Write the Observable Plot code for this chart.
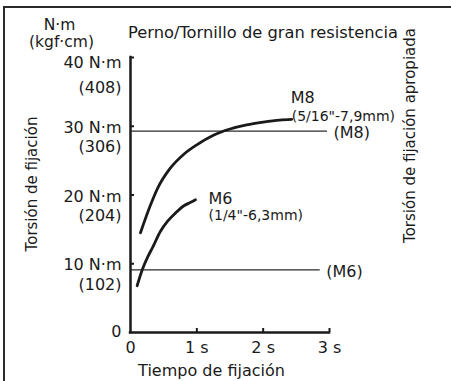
<!DOCTYPE html>
<html><head><meta charset="utf-8">
<script src="https://cdn.jsdelivr.net/npm/d3@7"></script>
<script src="https://cdn.jsdelivr.net/npm/@observablehq/plot@0.6"></script>
<style>
html,body{margin:0;padding:0;background:#fff;overflow:hidden}
#wrap{position:relative;width:451px;height:381px;overflow:hidden;background:#fff}
#border{position:absolute;left:3px;top:6px;width:470px;height:400px;border-left:2px solid #2a2a2a;border-top:2px solid #2a2a2a}
#chart{position:absolute;left:0;top:0}
</style></head><body>
<div id="wrap"><div id="border"></div><div id="chart"></div></div>
<script>
// ---- data ----
const chartTitle = "Perno/Tornillo de gran resistencia";
const unitNm = "N·m";
const unitKgf = "(kgf·cm)";
const yAxisTitle = "Torsión de fijación";
const rightTitle = "Torsión de fijación apropiada";
const xAxisTitle = "Tiempo de fijación";

const xTicks = [0, 1, 2, 3];
const xTickLabels = ["0", "1 s", "2 s", "3 s"];
const yTicks = [0, 10, 20, 30, 40];
const yTickNm = ["0", "10 N·m", "20 N·m", "30 N·m", "40 N·m"];
const yTickKgf = ["", "(102)", "(204)", "(306)", "(408)"];

const m8Time   = [0.15, 0.3, 0.41, 0.6, 0.8, 1.0, 1.25, 1.5, 1.75, 2.0, 2.25, 2.43];
const m8Torque = [14.5, 18.5, 21.0, 23.9, 25.9, 27.3, 28.7, 29.6, 30.2, 30.6, 30.9, 31.0];
const m6Time   = [0.1, 0.18, 0.26, 0.33, 0.45, 0.56, 0.68, 0.8, 0.9, 0.98];
const m6Torque = [6.8, 9.2, 11.0, 12.3, 14.7, 16.2, 17.4, 18.4, 18.9, 19.3];

const refSizes = ["(M8)", "(M6)"];
const refTorque = [29.3, 9.1];
const refEndTime = [2.97, 2.86];

const m8Name = "M8", m8Sub = "(5/16\"-7,9mm)";
const m6Name = "M6", m6Sub = "(1/4\"-6,3mm)";

// ---- build tables ----
const m8 = m8Time.map((t, i) => ({t, v: m8Torque[i]}));
const m6 = m6Time.map((t, i) => ({t, v: m6Torque[i]}));
const refs = refSizes.map((s, i) => ({s, v: refTorque[i], end: refEndTime[i]}));
const yLab = yTicks.map((v, i) => ({v, nm: yTickNm[i], kgf: yTickKgf[i]}));
const yMid = yLab.filter(d => d.v > 0 && d.v < 40);
const yTop = yLab.filter(d => d.v === 40);
const yZero = yLab.filter(d => d.v === 0);
const xLab = xTicks.map((t, i) => ({t, s: xTickLabels[i]}));
const m8End = m8[m8.length - 1];
const m6End = m6[m6.length - 1];

const ink = "#1a1a1a";
const fs = 16;

const chart = Plot.plot({
  width: 451, height: 381,
  marginLeft: 130, marginRight: 122, marginTop: 57, marginBottom: 49,
  x: {domain: [0, 3], axis: null},
  y: {domain: [0, 40], axis: null},
  style: {fontFamily: "DejaVu Sans", fontSize: "16px", color: ink, background: "transparent"},
  marks: [
    // reference torque lines
    Plot.ruleY(refs, {y: "v", x1: 0, x2: "end", stroke: "#2a2a2a", strokeWidth: 1.3}),
    Plot.text(refs, {x: "end", y: "v", text: "s", textAnchor: "start", lineAnchor: "bottom", dx: 6, dy: 7, fontSize: fs}),
    // curves
    Plot.line(m8, {x: "t", y: "v", curve: "monotone-x", stroke: ink, strokeWidth: 2.8}),
    Plot.line(m6, {x: "t", y: "v", curve: "monotone-x", stroke: ink, strokeWidth: 2.8}),
    // curve labels
    Plot.text([m8End], {x: "t", y: "v", text: () => m8Name, textAnchor: "start", lineAnchor: "bottom", dx: -1, dy: -16, fontSize: fs}),
    Plot.text([m8End], {x: "t", y: "v", text: () => m8Sub, textAnchor: "start", lineAnchor: "bottom", dx: 0, dy: 2, fontSize: 14}),
    Plot.text([m6End], {x: "t", y: "v", text: () => m6Name, textAnchor: "start", lineAnchor: "bottom", dx: 13, dy: 4, fontSize: fs}),
    Plot.text([m6End], {x: "t", y: "v", text: () => m6Sub, textAnchor: "start", lineAnchor: "bottom", dx: 13, dy: 20, fontSize: 14}),
    // axes lines
    Plot.ruleX([0], {y1: 0, y2: 40, stroke: ink, strokeWidth: 2.5, strokeLinecap: "square"}),
    Plot.ruleY([0], {x1: 0, x2: 3, stroke: ink, strokeWidth: 2.5, strokeLinecap: "square"}),
    Plot.axisX({ticks: [1, 2, 3], tickSize: -4, tickFormat: () => "", label: null, strokeWidth: 2, stroke: ink}),
    Plot.axisY({ticks: [10, 20, 30, 40], tickSize: -4, tickFormat: () => "", label: null, strokeWidth: 2, stroke: ink}),
    // tick labels
    Plot.text(xLab, {x: "t", text: "s", frameAnchor: "bottom", lineAnchor: "bottom", dy: 20, fontSize: fs}),
    Plot.text(yMid, {y: "v", text: "nm", frameAnchor: "left", textAnchor: "end", lineAnchor: "bottom", dx: -9, dy: 6.5, fontSize: fs}),
    Plot.text(yMid, {y: "v", text: "kgf", frameAnchor: "left", textAnchor: "end", lineAnchor: "bottom", dx: -9, dy: 26, fontSize: fs}),
    Plot.text(yTop, {y: "v", text: "nm", frameAnchor: "left", textAnchor: "end", lineAnchor: "bottom", dx: -9, dy: 10, fontSize: fs}),
    Plot.text(yTop, {y: "v", text: "kgf", frameAnchor: "left", textAnchor: "end", lineAnchor: "bottom", dx: -9, dy: 35, fontSize: fs}),
    Plot.text(yZero, {y: "v", text: "nm", frameAnchor: "left", textAnchor: "end", lineAnchor: "bottom", dx: -9, dy: 4, fontSize: fs}),
    // titles
    Plot.text([chartTitle], {frameAnchor: "top", textAnchor: "middle", dx: 33, dy: -19.5, lineAnchor: "bottom", fontSize: 16.3}),
    Plot.text([unitNm], {frameAnchor: "top-left", textAnchor: "middle", dx: -71, dy: -28, lineAnchor: "bottom", fontSize: 15.5}),
    Plot.text([unitKgf], {frameAnchor: "top-left", textAnchor: "middle", dx: -69, dy: -10.5, lineAnchor: "bottom", fontSize: 15.5}),
    Plot.text([yAxisTitle], {frameAnchor: "left", textAnchor: "middle", lineAnchor: "middle", rotate: -90, dx: -98, dy: -11, fontSize: 15}),
    Plot.text([rightTitle], {frameAnchor: "right", textAnchor: "middle", lineAnchor: "middle", rotate: -90, dx: 81, dy: -59.5, fontSize: 15}),
    Plot.text([xAxisTitle], {frameAnchor: "bottom", textAnchor: "middle", dx: -18.5, dy: 43, lineAnchor: "bottom", fontSize: fs})
  ]
});
document.getElementById("chart").appendChild(chart);
</script>
</body></html>
